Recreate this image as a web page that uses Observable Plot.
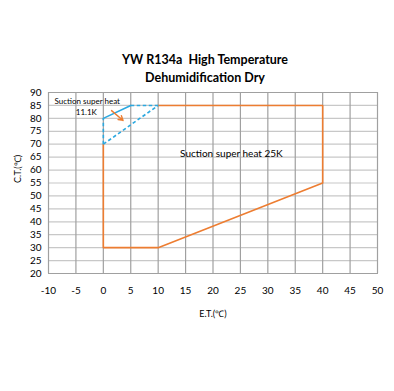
<!DOCTYPE html>
<html><head><meta charset="utf-8">
<script src="https://cdn.jsdelivr.net/npm/d3@7"></script>
<script src="https://cdn.jsdelivr.net/npm/@observablehq/plot@0.6"></script>
<style>
body{margin:0;background:#fff;}
#wrap{position:relative;width:394px;height:391px;font-family:Lato,"Open Sans",sans-serif;}
#title{position:absolute;left:0;width:410px;top:51px;text-align:center;font-weight:bold;font-size:12.5px;line-height:18px;color:#000;}
</style></head>
<body><div id="wrap"><div id="title">YW R134a&nbsp; High Temperature<br>Dehumidification Dry</div></div>
<script>
const title = ["YW R134a  High Temperature", "Dehumidification Dry"];
const xTicks = [-10,-5,0,5,10,15,20,25,30,35,40,45,50];
const yTicks = [20,25,30,35,40,45,50,55,60,65,70,75,80,85,90];
// Orange envelope (superheat 25K)
const envOrangeX = [0, 0, 10, 40, 40, 10];
const envOrangeY = [70, 30, 30, 55, 85, 85];
// Blue superheat 11.1K
const blueSolidX = [0, 5];
const blueSolidY = [80, 85];
const blueDashX = [[0, 10], [5, 10], [0, 0]];
const blueDashY = [[70, 85], [85, 85], [70, 80]];
const arrowPts = {x1: 1.5, y1: 83, x2: 3.6, y2: 79.2};
const labels = [
  {x: -8.9, y: 86.6, text: "Suction super heat", size: 8, anchor: "start"},
  {x: -3.1, y: 82.2, text: "11.1K", size: 8, anchor: "middle"},
  {x: 14, y: 66.2, text: "Suction super heat 25K", size: 10, anchor: "start"}
];

const orange = "#ED7D31", blue = "#2BA8E0";
const orangeData = envOrangeX.map((x,i)=>({x, y: envOrangeY[i]}));
const blueSolid = blueSolidX.map((x,i)=>({x, y: blueSolidY[i]}));
const dashSegs = blueDashX.map((xs,i)=>({x1: xs[0], x2: xs[1], y1: blueDashY[i][0], y2: blueDashY[i][1]}));

const chart = Plot.plot({
  width: 394, height: 391,
  marginLeft: 48, marginRight: 17, marginTop: 92, marginBottom: 118,
  style: {fontFamily: "Lato, 'Open Sans', sans-serif", fontSize: "10px", background: "transparent", color: "#000"},
  x: {domain: [-10, 50], ticks: xTicks, label: null},
  y: {domain: [20, 90], ticks: yTicks, label: null},
  marks: [
    Plot.gridY(yTicks, {stroke: "#c8c8c8", strokeOpacity: 1, strokeWidth: 1.2}),
    Plot.gridX(xTicks, {stroke: "#a0a0a0", strokeOpacity: 1, strokeWidth: 1.2}),
    Plot.frame({stroke: "#a0a0a0"}),
    Plot.axisX(xTicks, {tickSize: 0, tickPadding: 13, fontSize: 10, tickFormat: d => String(d)}),
    Plot.axisY(yTicks, {tickSize: 0, tickPadding: 7, fontSize: 10, tickFormat: d => String(d)}),
    Plot.line(orangeData, {x: "x", y: "y", stroke: orange, strokeWidth: 1.6}),
    Plot.link(dashSegs, {x1: "x1", y1: "y1", x2: "x2", y2: "y2", stroke: blue, strokeWidth: 1.6, strokeDasharray: "3.5,2.5"}),
    Plot.line(blueSolid, {x: "x", y: "y", stroke: blue, strokeWidth: 1.6}),
    Plot.arrow([arrowPts], {x1: "x1", y1: "y1", x2: "x2", y2: "y2", stroke: orange, strokeWidth: 1.4, headLength: 6}),
    Plot.text(labels.filter(d=>d.anchor==="start"&&d.size===8), {x: "x", y: "y", text: "text", fontSize: 8, textAnchor: "start"}),
    Plot.text(labels.filter(d=>d.anchor==="middle"), {x: "x", y: "y", text: "text", fontSize: 8, textAnchor: "middle"}),
    Plot.text(labels.filter(d=>d.size===10), {x: "x", y: "y", text: "text", fontSize: 10, textAnchor: "start"}),
    Plot.text(["E.T.(℃)"], {frameAnchor: "bottom", dy: 43, fontSize: 9}),
    Plot.text(["C.T.(℃)"], {frameAnchor: "left", dx: -30, rotate: -90, fontSize: 9})
  ]
});
chart.style.position = "absolute"; chart.style.left = "0"; chart.style.top = "0";
document.getElementById("wrap").prepend(chart);
</script></body></html>
